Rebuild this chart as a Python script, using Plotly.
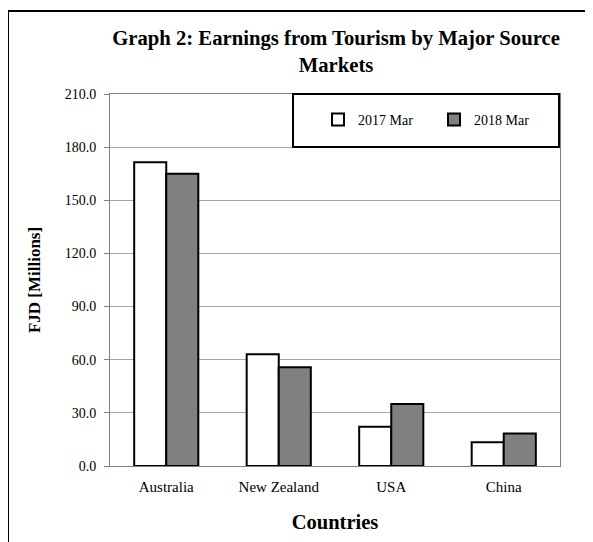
import plotly.graph_objects as go

countries = ["Australia", "New Zealand", "USA", "China"]
mar_2017 = [171.5, 63.1, 22.2, 13.4]
mar_2018 = [165.0, 55.7, 35.0, 18.4]
series_names = ["2017 Mar", "2018 Mar"]
y_ticks = [0, 30, 60, 90, 120, 150, 180, 210]

FONT = "Liberation Serif, Times New Roman, serif"

fig = go.Figure()
fig.add_trace(go.Bar(x=countries, y=mar_2017, name=series_names[0],
                     marker=dict(color="white", line=dict(color="black", width=2))))
fig.add_trace(go.Bar(x=countries, y=mar_2018, name=series_names[1],
                     marker=dict(color="#808080", line=dict(color="black", width=2))))

# page body has an 8px offset; work in figure coordinates = reference - 8
OFF = 8
W, H = 585, 534
L, T = 110 - OFF, 94 - OFF
PR, PB = 560 - OFF, 466 - OFF
R, B = W - PR, H - PB
pw, ph = PR - L, PB - T

def px(x):
    return (x - OFF - L) / pw

def py(y):
    return (PB - (y - OFF)) / ph

fig.update_layout(
    width=W, height=H,
    margin=dict(l=L, r=R, t=T, b=B),
    paper_bgcolor="white", plot_bgcolor="white",
    font=dict(family=FONT, size=14, color="black"),
    barmode="group", bargap=0.43, bargroupgap=0,
    title=dict(text="<b>Graph 2: Earnings from Tourism by Major Source<br>Markets</b>",
               font=dict(family=FONT, size=20.7, color="black"),
               x=(336 - OFF) / W, xanchor="center", y=1 - 37 / H, yanchor="middle"),
    legend=dict(orientation="h", x=px(318), xanchor="left", y=py(120), yanchor="middle",
                bgcolor="rgba(0,0,0,0)", font=dict(family=FONT, size=14),
                entrywidth=71, entrywidthmode="pixels", traceorder="normal"),
    xaxis=dict(showline=True, linecolor="#808080", linewidth=1, mirror=True,
               ticks="", tickfont=dict(family=FONT, size=15), ticklabelstandoff=7,
               title=dict(text="<b>Countries</b>", font=dict(family=FONT, size=20.5), standoff=20)),
    yaxis=dict(range=[0, 210], tickvals=y_ticks, tickformat=".1f",
               showgrid=True, gridcolor="#a6a6a6", gridwidth=1,
               showline=True, linecolor="#808080", linewidth=1, mirror=True,
               ticks="outside", ticklen=5, tickcolor="#808080", ticklabelstandoff=5,
               tickfont=dict(family=FONT, size=14),
               title=dict(text="<b>FJD [Millions]</b>", font=dict(family=FONT, size=17), standoff=19)),
    shapes=[
        dict(type="rect", xref="paper", yref="paper",
             x0=px(293), x1=px(559), y0=py(147), y1=py(94),
             line=dict(color="black", width=2), fillcolor="white", layer="above"),
        dict(type="rect", xref="paper", yref="paper",
             x0=px(8), x1=px(640), y0=py(620), y1=py(11),
             line=dict(color="black", width=2), fillcolor="rgba(0,0,0,0)", layer="above"),
    ],
)

fig.write_html("out.html")
